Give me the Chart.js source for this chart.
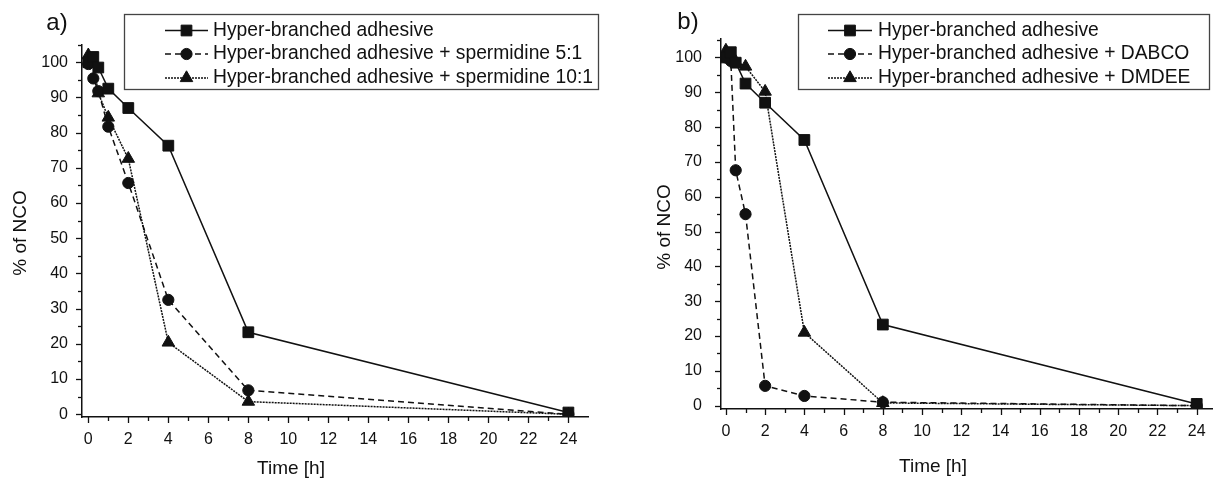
<!DOCTYPE html>
<html>
<head>
<meta charset="utf-8">
<script src="https://cdn.jsdelivr.net/npm/chart.js@4.4.1/dist/chart.umd.min.js"></script>
<style>
  html, body { margin: 0; padding: 0; background: #fff; }
  #wrap { position: relative; width: 1221px; height: 484px; }
  .panel { position: absolute; top: 0; height: 484px; width: 610px; }
</style>
</head>
<body>
<div id="wrap">
  <div class="panel" style="left:0"><canvas id="chartA"></canvas></div>
  <div class="panel" style="left:611px"><canvas id="chartB"></canvas></div>
</div>
<script>
// sampling times [h]
const times = [0, 0.25, 0.5, 1, 2, 4, 8, 24];

// % of NCO left
const adhesive   = [100, 101.5, 98.5, 92.5, 87.0, 76.3, 23.3, 0.5];
const sperm5to1  = [99.5, 95.4, 91.8, 81.7, 65.7, 32.5, 6.8, 0];
const sperm10to1 = [102, 100, 91.2, 84.3, 72.6, 20.4, 3.6, 0];
const dabco      = [100, 99.0, 67.6, 55.0, 5.7, 2.8, 1.0, 0];
const dmdee      = [102, 100.5, 98.8, 97.4, 90.2, 21.0, 0.8, 0];

// labelled ticks
const xTickLabels = [0, 2, 4, 6, 8, 10, 12, 14, 16, 18, 20, 22, 24];
const yTickLabels = [0, 10, 20, 30, 40, 50, 60, 70, 80, 90, 100];

const labelsA = ['Hyper-branched adhesive', 'Hyper-branched adhesive + spermidine 5:1', 'Hyper-branched adhesive + spermidine 10:1'];
const labelsB = ['Hyper-branched adhesive', 'Hyper-branched adhesive + DABCO', 'Hyper-branched adhesive + DMDEE'];

const ink = '#111';
const fontFam = '"Liberation Sans", Arial, Helvetica, sans-serif';

// line style + marker per series position
const styles = [
  { dash: [], width: 1.5, point: 'rect', radius: 7.6 },
  { dash: [6, 4], width: 1.5, point: 'circle', radius: 5.6 },
  { dash: [2, 1], width: 1.5, point: 'triangle', radius: 7.2 }
];

function makeSet(label, values, i) {
  const s = styles[i];
  return {
    label: label,
    data: times.map((t, k) => ({ x: t, y: values[k] })),
    borderColor: ink,
    backgroundColor: ink,
    borderWidth: s.width,
    borderDash: s.dash,
    pointStyle: s.point,
    pointRadius: s.radius,
    pointHoverRadius: s.radius,
    pointBackgroundColor: ink,
    pointBorderColor: ink,
    pointBorderWidth: 1,
    tension: 0
  };
}

function marker(ctx, style, r, x, y) {
  ctx.beginPath();
  if (style === 'rect') {
    const h = r * Math.SQRT1_2;
    ctx.rect(x - h, y - h, 2 * h, 2 * h);
  } else if (style === 'circle') {
    ctx.arc(x, y, r, 0, Math.PI * 2);
  } else {
    const w = r * Math.sqrt(3) / 2;
    ctx.moveTo(x, y - r);
    ctx.lineTo(x + w, y + r / 2);
    ctx.lineTo(x - w, y + r / 2);
    ctx.closePath();
  }
  ctx.fill();
  ctx.stroke();
}

// axis ticks (major/minor), axis titles, panel letter and boxed legend
const decor = {
  id: 'decor',
  afterDraw(chart, args, o) {
    const ctx = chart.ctx;
    const xs = chart.scales.x, ys = chart.scales.y;
    const a = chart.chartArea;
    ctx.save();
    ctx.strokeStyle = ink;
    ctx.lineWidth = 1.3;
    ctx.setLineDash([]);
    for (let v = 0; v <= 24; v++) {
      const px = Math.round(xs.getPixelForValue(v)) + 0.5;
      const len = v % 2 === 0 ? 6 : 4;
      ctx.beginPath();
      ctx.moveTo(px, a.bottom);
      ctx.lineTo(px, a.bottom + len);
      ctx.stroke();
    }
    for (let v = 0; v <= 105; v += 5) {
      const py = Math.round(ys.getPixelForValue(v)) + 0.5;
      const len = v % 10 === 0 ? 6 : 4;
      ctx.beginPath();
      ctx.moveTo(a.left, py);
      ctx.lineTo(a.left - len, py);
      ctx.stroke();
    }

    ctx.fillStyle = ink;
    ctx.textAlign = 'center';
    ctx.textBaseline = 'middle';
    ctx.font = '19px ' + fontFam;
    ctx.fillText('Time [h]', o.xTitle[0], o.xTitle[1]);
    ctx.save();
    ctx.translate(o.yTitle[0], o.yTitle[1]);
    ctx.rotate(-Math.PI / 2);
    ctx.fillText('% of NCO', 0, 0);
    ctx.restore();

    ctx.font = '24px ' + fontFam;
    ctx.fillText(o.letter, o.letterPos[0], o.letterPos[1]);

    // legend box
    const L = o.legend;
    ctx.strokeStyle = '#444';
    ctx.lineWidth = 1.3;
    ctx.strokeRect(L.left + 0.5, L.top + 0.5, L.right - L.left, L.bottom - L.top);
    ctx.font = '19.3px ' + fontFam;
    ctx.textAlign = 'left';
    chart.data.datasets.forEach((ds, i) => {
      const s = styles[i];
      const ry = L.rows[i];
      ctx.strokeStyle = ink;
      ctx.lineWidth = s.width;
      ctx.setLineDash(s.dash);
      ctx.beginPath();
      ctx.moveTo(L.line[0], ry);
      ctx.lineTo(L.line[1], ry);
      ctx.stroke();
      ctx.setLineDash([]);
      ctx.lineWidth = 1;
      ctx.fillStyle = ink;
      marker(ctx, s.point, s.radius, (L.line[0] + L.line[1]) / 2, ry);
      ctx.fillText(ds.label, L.text, ry);
    });
    ctx.restore();
  }
};

function buildChart(id, sets, cfg) {
  return new Chart(document.getElementById(id), {
    type: 'line',
    data: { datasets: sets },
    options: {
      responsive: true,
      maintainAspectRatio: false,
      animation: false,
      events: [],
      layout: { padding: cfg.padding },
      plugins: {
        legend: { display: false },
        tooltip: { enabled: false },
        decor: cfg.decor
      },
      scales: {
        x: {
          type: 'linear',
          min: cfg.xMin,
          max: cfg.xMax,
          afterFit: s => { s.height = cfg.xHeight; },
          grid: { display: false, drawTicks: true, tickLength: 6 },
          border: { display: true, color: ink, width: 1.5 },
          ticks: {
            stepSize: 1,
            autoSkip: false,
            includeBounds: false,
            maxRotation: 0,
            padding: 7,
            color: ink,
            font: { family: fontFam, size: 16 },
            callback: v => xTickLabels.includes(v) ? String(v) : ''
          }
        },
        y: {
          min: cfg.yMin,
          max: cfg.yMax,
          afterFit: s => { s.width = cfg.yWidth; },
          grid: { display: false, drawTicks: true, tickLength: 6 },
          border: { display: true, color: ink, width: 1.5 },
          ticks: {
            stepSize: 5,
            autoSkip: false,
            includeBounds: false,
            padding: cfg.yPad,
            color: ink,
            font: { family: fontFam, size: 16 },
            callback: v => yTickLabels.includes(v) ? String(v) : ''
          }
        }
      }
    },
    plugins: [decor]
  });
}

buildChart('chartA', [
  makeSet(labelsA[0], adhesive, 0),
  makeSet(labelsA[1], sperm5to1, 1),
  makeSet(labelsA[2], sperm10to1, 2)
], {
  padding: { left: 0, right: 22, top: 45, bottom: 0 },
  xMin: -0.315, xMax: 24.98, xHeight: 67,
  yMin: -0.77, yMax: 104.9, yWidth: 82, yPad: 8,
  decor: {
    xTitle: [291, 469], yTitle: [21, 233], letter: 'a)', letterPos: [57, 23],
    legend: { left: 124, right: 598, top: 14, bottom: 89, rows: [30.5, 54, 78], line: [165, 208], text: 213 }
  }
});

buildChart('chartB', [
  makeSet(labelsB[0], adhesive, 0),
  makeSet(labelsB[1], dabco, 1),
  makeSet(labelsB[2], dmdee, 2)
], {
  padding: { left: 0, right: 1, top: 39, bottom: 0 },
  xMin: -0.25, xMax: 24.8, xHeight: 75,
  yMin: -0.95, yMax: 105.3, yWidth: 110, yPad: 13,
  decor: {
    xTitle: [322, 467], yTitle: [54, 227], letter: 'b)', letterPos: [77, 22],
    legend: { left: 187, right: 598, top: 14, bottom: 89, rows: [30.5, 54, 78], line: [217, 261], text: 267 }
  }
});
</script>
</body>
</html>
